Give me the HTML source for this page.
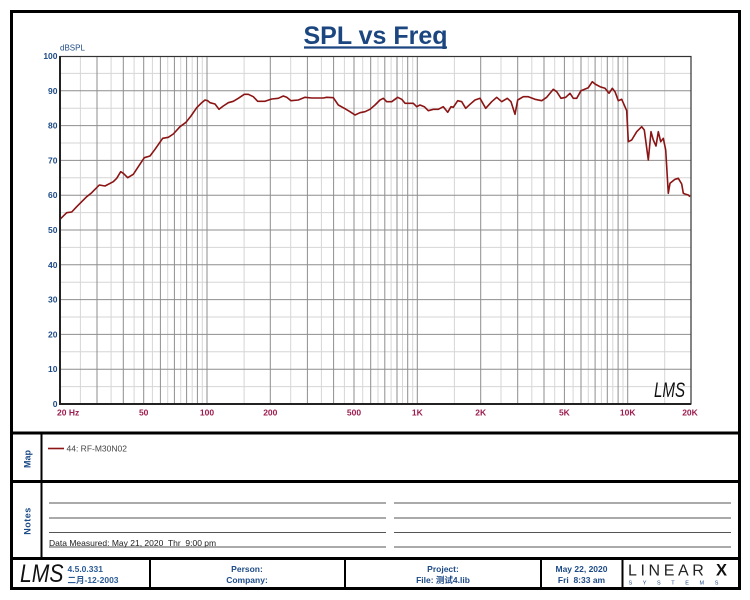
<!DOCTYPE html>
<html><head><meta charset="utf-8">
<style>
html,body{margin:0;padding:0;background:#fff;}
svg{display:block;}
text{font-family:"Liberation Sans","Noto Sans CJK SC",sans-serif;}
</style></head>
<body>
<svg width="750" height="600" viewBox="0 0 750 600" xmlns="http://www.w3.org/2000/svg">
<rect x="0" y="0" width="750" height="600" fill="#fff"/>

<!-- light vertical grid -->
<g stroke="#d6d6d6" stroke-width="1">
<line x1="80.4" y1="56" x2="80.4" y2="404"/><line x1="111.1" y1="56" x2="111.1" y2="404"/><line x1="134.1" y1="56" x2="134.1" y2="404"/><line x1="152.4" y1="56" x2="152.4" y2="404"/><line x1="167.7" y1="56" x2="167.7" y2="404"/><line x1="180.7" y1="56" x2="180.7" y2="404"/><line x1="192.2" y1="56" x2="192.2" y2="404"/><line x1="202.3" y1="56" x2="202.3" y2="404"/>
<line x1="244.1" y1="56" x2="244.1" y2="404"/><line x1="290.7" y1="56" x2="290.7" y2="404"/><line x1="321.4" y1="56" x2="321.4" y2="404"/><line x1="344.4" y1="56" x2="344.4" y2="404"/><line x1="362.7" y1="56" x2="362.7" y2="404"/><line x1="378" y1="56" x2="378" y2="404"/><line x1="391.1" y1="56" x2="391.1" y2="404"/><line x1="402.5" y1="56" x2="402.5" y2="404"/><line x1="412.7" y1="56" x2="412.7" y2="404"/>
<line x1="454.4" y1="56" x2="454.4" y2="404"/><line x1="501" y1="56" x2="501" y2="404"/><line x1="531.8" y1="56" x2="531.8" y2="404"/><line x1="554.7" y1="56" x2="554.7" y2="404"/><line x1="573.1" y1="56" x2="573.1" y2="404"/><line x1="588.3" y1="56" x2="588.3" y2="404"/><line x1="601.4" y1="56" x2="601.4" y2="404"/><line x1="612.8" y1="56" x2="612.8" y2="404"/><line x1="623" y1="56" x2="623" y2="404"/>
<line x1="664.7" y1="56" x2="664.7" y2="404"/>
<!-- light horizontal -->
<line x1="60" y1="386.6" x2="691" y2="386.6"/><line x1="60" y1="351.8" x2="691" y2="351.8"/><line x1="60" y1="317" x2="691" y2="317"/><line x1="60" y1="282.2" x2="691" y2="282.2"/><line x1="60" y1="247.4" x2="691" y2="247.4"/><line x1="60" y1="212.6" x2="691" y2="212.6"/><line x1="60" y1="177.8" x2="691" y2="177.8"/><line x1="60" y1="143" x2="691" y2="143"/><line x1="60" y1="108.2" x2="691" y2="108.2"/><line x1="60" y1="73.4" x2="691" y2="73.4"/>
</g>
<!-- dark grid -->
<g stroke="#8e8e8e" stroke-width="1">
<line x1="97" y1="56" x2="97" y2="404"/><line x1="123.3" y1="56" x2="123.3" y2="404"/><line x1="143.7" y1="56" x2="143.7" y2="404"/><line x1="160.4" y1="56" x2="160.4" y2="404"/><line x1="174.4" y1="56" x2="174.4" y2="404"/><line x1="186.6" y1="56" x2="186.6" y2="404"/><line x1="197.4" y1="56" x2="197.4" y2="404"/><line x1="207" y1="56" x2="207" y2="404"/>
<line x1="270.3" y1="56" x2="270.3" y2="404"/><line x1="307.4" y1="56" x2="307.4" y2="404"/><line x1="333.6" y1="56" x2="333.6" y2="404"/><line x1="354" y1="56" x2="354" y2="404"/><line x1="370.7" y1="56" x2="370.7" y2="404"/><line x1="384.8" y1="56" x2="384.8" y2="404"/><line x1="397" y1="56" x2="397" y2="404"/><line x1="407.7" y1="56" x2="407.7" y2="404"/><line x1="417.3" y1="56" x2="417.3" y2="404"/>
<line x1="480.7" y1="56" x2="480.7" y2="404"/><line x1="517.7" y1="56" x2="517.7" y2="404"/><line x1="544" y1="56" x2="544" y2="404"/><line x1="564.4" y1="56" x2="564.4" y2="404"/><line x1="581" y1="56" x2="581" y2="404"/><line x1="595.1" y1="56" x2="595.1" y2="404"/><line x1="607.3" y1="56" x2="607.3" y2="404"/><line x1="618.1" y1="56" x2="618.1" y2="404"/><line x1="627.7" y1="56" x2="627.7" y2="404"/>
<line x1="60" y1="369.2" x2="691" y2="369.2"/><line x1="60" y1="334.4" x2="691" y2="334.4"/><line x1="60" y1="299.6" x2="691" y2="299.6"/><line x1="60" y1="264.8" x2="691" y2="264.8"/><line x1="60" y1="230" x2="691" y2="230"/><line x1="60" y1="195.2" x2="691" y2="195.2"/><line x1="60" y1="160.4" x2="691" y2="160.4"/><line x1="60" y1="125.6" x2="691" y2="125.6"/><line x1="60" y1="90.8" x2="691" y2="90.8"/>
</g>

<!-- curve -->
<polyline fill="none" stroke="#8b1414" stroke-width="1.6" stroke-linejoin="round" points="60,219.3 66.7,212.7 71.7,212 76.7,206.7 86.7,196.7 91.7,192.7 99.3,185 105,186 113.3,181.7 116.7,178.3 120.7,171.7 123.3,173.3 127.7,177.7 133.3,174.3 138.3,166.7 144.3,157.7 150,156 155,149.3 162.7,138.3 168.3,137.3 173.3,134 180,126.7 186,122.3 191,116 196.7,107.7 201.7,102.7 205,100 207.7,100.7 210,102.7 215,104 219,109.3 223.3,106 228.3,102.7 233.3,101.3 238.3,98.3 244.3,94.3 248.3,94.3 253.3,96.7 257.7,101.3 265,101.3 271.7,99 278.3,98.3 283.3,96 286.7,97.3 291,100.7 298.3,100 305,97.3 311.7,98 323.3,98 326.7,97.3 333.3,97.7 338.3,105 345,108.7 350,111.7 355,115 360,112.7 365,111.7 370,109.3 375,105 380,100 383.3,98.3 386.7,101.7 391.7,101.7 397.7,97.3 401.7,99.3 405,103.3 413.3,103.3 416.7,106.7 420,105 424.3,106.7 428.3,110.7 433.3,109.3 438.3,109.3 443.3,106.7 447.7,112.3 451,106.7 453.3,107.3 457.7,100.7 461.7,101.7 465.7,108.3 470,104.3 475,100 480,98.3 485.7,108.3 491.7,101.7 496.7,97.3 501.7,101.7 507.3,98.3 511,101.7 515,114.3 517.7,100 523.3,96.7 528.3,96.7 535,99.3 541.7,100.7 546.7,97.3 553.3,89.3 556.7,91.7 561,98.3 565.7,97.3 570,93.3 573.3,98.3 576.7,98.3 581,90.7 588.3,87.7 592.3,81.7 595,84 600,86.7 605,88.3 609,93.3 612.3,88.3 615,91.7 618.3,100.7 621.7,99.3 626.7,110.7 628.3,141.7 631.7,140 636.7,131.7 641.7,126.7 644.3,130 648.3,160 651,131.7 653.3,140 656,146 658.3,131.7 660.7,141.7 663.3,138.3 665.7,150 668.3,193.3 670,183.3 675,179.3 678.3,178.3 681.7,184 683.3,193.3 685,194 688.3,195 690,196.7"/>

<!-- plot border -->
<rect x="60" y="56.5" width="631" height="347.5" fill="none" stroke="#333" stroke-width="1.2"/>
<line x1="60" y1="56" x2="60" y2="405" stroke="#222" stroke-width="2"/>
<line x1="59" y1="404" x2="691" y2="404" stroke="#222" stroke-width="2"/>

<!-- title -->
<text x="375.5" y="44" text-anchor="middle" font-size="25" font-weight="bold" fill="#1b467f">SPL vs Freq</text>
<line x1="304" y1="47.5" x2="447" y2="47.5" stroke="#1b467f" stroke-width="2.2"/>

<!-- y labels -->
<text x="60" y="50.5" font-size="8" fill="#1c4a86">dBSPL</text>
<g font-size="8.5" font-weight="bold" fill="#1c4a86" text-anchor="end">
<text x="57.5" y="59">100</text><text x="57.5" y="93.8">90</text><text x="57.5" y="128.6">80</text><text x="57.5" y="163.4">70</text><text x="57.5" y="198.2">60</text><text x="57.5" y="233">50</text><text x="57.5" y="267.8">40</text><text x="57.5" y="302.6">30</text><text x="57.5" y="337.4">20</text><text x="57.5" y="372.2">10</text><text x="57.5" y="407">0</text>
</g>
<!-- x labels -->
<g font-size="8.5" font-weight="bold" fill="#9c1c4e" text-anchor="middle">
<text x="57" y="415.5" text-anchor="start">20  Hz</text>
<text x="143.7" y="415.5">50</text><text x="207" y="415.5">100</text><text x="270.3" y="415.5">200</text><text x="354" y="415.5">500</text><text x="417.3" y="415.5">1K</text><text x="480.7" y="415.5">2K</text><text x="564.4" y="415.5">5K</text><text x="627.7" y="415.5">10K</text><text x="690" y="415.5">20K</text>
</g>
<!-- plot watermark -->
<text x="0" y="0" font-family="Liberation Serif,serif" font-style="italic" font-size="21" fill="#111" transform="translate(654,397) scale(0.72,1)">LMS</text>

<!-- sections -->
<line x1="10" y1="433" x2="741" y2="433" stroke="#000" stroke-width="3"/>
<line x1="10" y1="481.5" x2="741" y2="481.5" stroke="#000" stroke-width="3"/>
<line x1="10" y1="558.5" x2="741" y2="558.5" stroke="#000" stroke-width="3"/>
<line x1="41.5" y1="433" x2="41.5" y2="558" stroke="#000" stroke-width="2"/>
<line x1="150" y1="558" x2="150" y2="589" stroke="#000" stroke-width="2"/>
<line x1="345" y1="558" x2="345" y2="589" stroke="#000" stroke-width="2"/>
<line x1="541" y1="558" x2="541" y2="589" stroke="#000" stroke-width="2"/>
<line x1="622.5" y1="558" x2="622.5" y2="589" stroke="#000" stroke-width="2"/>
<rect x="11.5" y="11.5" width="728" height="577" fill="none" stroke="#000" stroke-width="3"/>

<!-- map & notes labels -->
<text x="0" y="0" font-size="9" font-weight="bold" fill="#1c4a86" text-anchor="middle" transform="translate(30.5,459) rotate(-90)">Map</text>
<text x="0" y="0" font-size="9" font-weight="bold" fill="#1c4a86" text-anchor="middle" letter-spacing="0.5" transform="translate(30.5,521) rotate(-90)">Notes</text>

<!-- legend -->
<line x1="48" y1="448.5" x2="64" y2="448.5" stroke="#8b1414" stroke-width="1.6"/>
<text x="66.5" y="451.5" font-size="8.5" fill="#444">44: RF-M30N02</text>

<!-- notes lines -->
<g stroke="#555" stroke-width="1">
<line x1="49" y1="503" x2="386" y2="503"/><line x1="49" y1="518" x2="386" y2="518"/><line x1="49" y1="532.5" x2="386" y2="532.5"/><line x1="49" y1="547" x2="386" y2="547"/>
<line x1="394" y1="503" x2="731" y2="503"/><line x1="394" y1="518" x2="731" y2="518"/><line x1="394" y1="532.5" x2="731" y2="532.5"/><line x1="394" y1="547" x2="731" y2="547"/>
</g>
<text x="49" y="546" font-size="8.5" fill="#222" xml:space="preserve">Data Measured: May 21, 2020  Thr  9:00 pm</text>

<!-- footer -->
<text x="0" y="0" font-family="Liberation Serif,serif" font-style="italic" font-size="24" fill="#111" transform="translate(20,582) scale(0.88,1.05)">LMS</text>
<g font-size="8.5" font-weight="bold" fill="#2a5a96">
<text x="67.5" y="572">4.5.0.331</text>
<text x="67.5" y="583">二月-12-2003</text>
</g>
<g font-size="8.5" font-weight="bold" fill="#1c4a86" text-anchor="middle">
<text x="247" y="572">Person:</text>
<text x="247" y="583">Company:</text>
<text x="443" y="572">Project:</text>
<text x="443" y="583">File: 测试4.lib</text>
<text x="581.5" y="572">May 22, 2020</text>
<text x="581.5" y="583" xml:space="preserve">Fri  8:33 am</text>
</g>
<!-- LINEARX logo -->
<text x="628" y="575.5" font-family="Liberation Serif,serif" font-size="16" fill="#222" letter-spacing="3.6">LINEAR</text>
<text x="716" y="575.5" font-family="Liberation Sans,sans-serif" font-weight="bold" font-size="16.5" fill="#111">X</text>
<text x="628.5" y="584.5" font-size="5.5" fill="#1c4a86" letter-spacing="10.6">SYSTEMS</text>
</svg>
</body></html>
